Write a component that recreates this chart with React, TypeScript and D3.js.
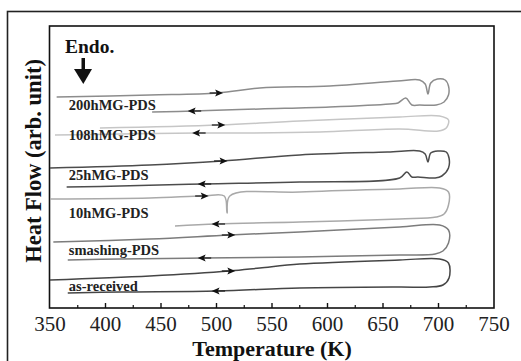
import * as d3 from 'd3'

// DSC traces, heating (left -> right) then the turn-around loop and cooling (right -> left)
// temperature in K, heat flow in arbitrary units
const samples = ['200hMG-PDS', '108hMG-PDS', '25hMG-PDS', '10hMG-PDS', 'smashing-PDS', 'as-received']

const trace200h: [number, number][] = [
  [356, 105.5], [440, 106.5], [501, 107.5], [539, 110], [602, 111], [663, 113.5], [683, 114],
  [688, 112], [690.5, 107], [693, 112.5], [699, 114.5], [706, 114], [709, 111], [709, 106.5],
  [705, 103], [698, 101.5], [683, 101.5], [676, 101.5], [670.5, 105], [663.5, 102.5],
  [656, 102], [602, 100.5], [539, 99.5], [479, 98.5], [442, 98],
]
const trace108h: [number, number][] = [
  [395, 90], [503, 91.5], [575, 93.5], [665, 95.5], [701, 96], [709, 94], [707, 90], [700, 88.5],
  [665, 89.5], [593, 88], [530, 87.5], [483, 87.5], [413, 87], [354.5, 86.5],
]
const trace25h: [number, number][] = [
  [350, 70], [440, 71.5], [505, 73.5], [575, 76.5], [654, 78], [683, 78.5], [688, 77],
  [690.5, 73], [693, 77.5], [699.5, 78.5], [707, 78], [709.5, 75], [709, 70], [703, 66],
  [697, 65], [681.5, 65.5], [676, 65.5], [671.5, 68], [665, 65], [575, 63], [488, 62],
  [413, 61], [365, 60.5],
]
const trace10h: [number, number][] = [
  [350, 54.5], [440, 55], [488, 56], [507, 56], [509.5, 47.5], [512, 56], [575, 58], [665, 59.5],
  [701, 60], [709, 58], [709, 51.5], [705, 47], [698, 45.5], [665, 44.5], [575, 43],
  [500.5, 42], [462.6, 41],
]
const traceSmashing: [number, number][] = [
  [353, 33], [440, 34.5], [512, 36.5], [575, 38], [665, 40.5], [701, 41.5], [709, 39],
  [709, 32.5], [704, 28.5], [697, 27], [665, 26.5], [575, 25.5], [488, 25], [413, 24.5], [366, 24],
]
const traceAsReceived: [number, number][] = [
  [350, 14], [440, 16], [512, 18.5], [539, 20], [575, 22], [665, 24], [701, 24.5], [709, 22.5],
  [709.5, 15], [704, 11.5], [692, 10.5], [665, 10.5], [575, 10], [500.5, 8.5], [413, 8], [366, 7.5],
]
const traces = [trace200h, trace108h, trace25h, trace10h, traceSmashing, traceAsReceived]

// scan direction markers: [T, flow, dir] (1 = heating, -1 = cooling)
const arrows: [number, number, number][] = [
  [501, 107.5, 1], [479, 98.5, -1],
  [503, 91.5, 1], [483, 87.5, -1],
  [505, 73.5, 1], [488, 62, -1],
  [488, 56, 1], [500.5, 42, -1],
  [512, 36.5, 1], [488, 25, -1],
  [512, 18.5, 1], [500.5, 8.5, -1],
]

// label anchor (T) and baseline (flow) for each sample name
const labelT = 367
const labelFlow = [99, 84, 64, 45, 26.5, 8.5]

const xTicks = [350, 400, 450, 500, 550, 600, 650, 700, 750]
const minorTicks = [375, 425, 475, 525, 575, 625, 675, 725]

const traceColors = ['#8c8c8c', '#c6c6c6', '#4c4c4c', '#a9a9a9', '#7c7c7c', '#454545']

export default function App() {
  const W = 521
  const H = 361
  const margin = { top: 26, right: 27, bottom: 53, left: 49.5 }
  const x = d3.scaleLinear().domain([350, 750]).range([margin.left + 0.5, W - margin.right])
  const y = d3.scaleLinear().domain([0, 141]).range([H - margin.bottom, margin.top])

  const line = d3.line<[number, number]>()
    .x(d => x(d[0]))
    .y(d => y(d[1]))
    .curve(d3.curveCatmullRom.alpha(0.5))

  const serif = '"Liberation Serif", "DejaVu Serif", serif'
  const plotBottom = H - margin.bottom

  return (
    <svg width={W} height={H} style={{ position: 'absolute', left: 0, top: 0, background: '#fff' }} fontFamily={serif}>
      {/* outer frame, right and bottom edges fall outside the crop */}
      <rect x={7.5} y={11.5} width={516} height={360} fill="none" stroke="#222" strokeWidth={1.6} />
      {/* plot frame */}
      <rect x={margin.left} y={margin.top} width={W - margin.right - margin.left} height={plotBottom - margin.top}
        fill="none" stroke="#111" strokeWidth={1.6} />

      {/* traces */}
      {traces.map((t, i) => (
        <path key={i} d={line(t) ?? ''} fill="none" stroke={traceColors[i]} strokeWidth={1.5} />
      ))}

      {/* direction arrows */}
      {arrows.map(([t, f, dir], i) => {
        const cx = x(t)
        const cy = y(f)
        return (
          <g key={i} transform={`translate(${cx},${cy}) scale(${dir},1)`}>
            <line x1={-8} x2={2} y1={0} y2={0} stroke="#222" strokeWidth={1.3} />
            <path d="M5.5,0 L-2.5,-3.6 L-0.8,0 L-2.5,3.6 Z" fill="#111" />
          </g>
        )
      })}

      {/* sample labels */}
      {samples.map((s, i) => (
        <text key={s} x={x(labelT)} y={y(labelFlow[i])} fontSize={14.5} fontWeight="bold" fill="#222">{s}</text>
      ))}

      {/* Endo. marker */}
      <text x={65} y={53} fontSize={19.5} fontWeight="bold" fill="#111">Endo.</text>
      <rect x={81.5} y={58} width={3.5} height={12} fill="#111" />
      <path d="M74,69 L92,69 L83.3,84 Z" fill="#111" />

      {/* x ticks (inward) */}
      {xTicks.map(t => (
        <g key={t}>
          {t > 350 && t < 750 && (
            <line x1={x(t)} x2={x(t)} y1={plotBottom} y2={plotBottom - 5} stroke="#111" strokeWidth={1.4} />
          )}
          <text x={x(t)} y={331} textAnchor="middle" fontSize={21} fill="#222">{t}</text>
        </g>
      ))}
      {minorTicks.map(t => (
        <line key={t} x1={x(t)} x2={x(t)} y1={plotBottom} y2={plotBottom - 3} stroke="#111" strokeWidth={1.2} />
      ))}

      {/* axis titles */}
      <text x={272} y={356} textAnchor="middle" fontSize={22} fontWeight="bold" fill="#111">Temperature (K)</text>
      <text transform="translate(41,161) rotate(-90)" textAnchor="middle" fontSize={22.5} fontWeight="bold" fill="#111">
        Heat Flow (arb. unit)
      </text>
    </svg>
  )
}
